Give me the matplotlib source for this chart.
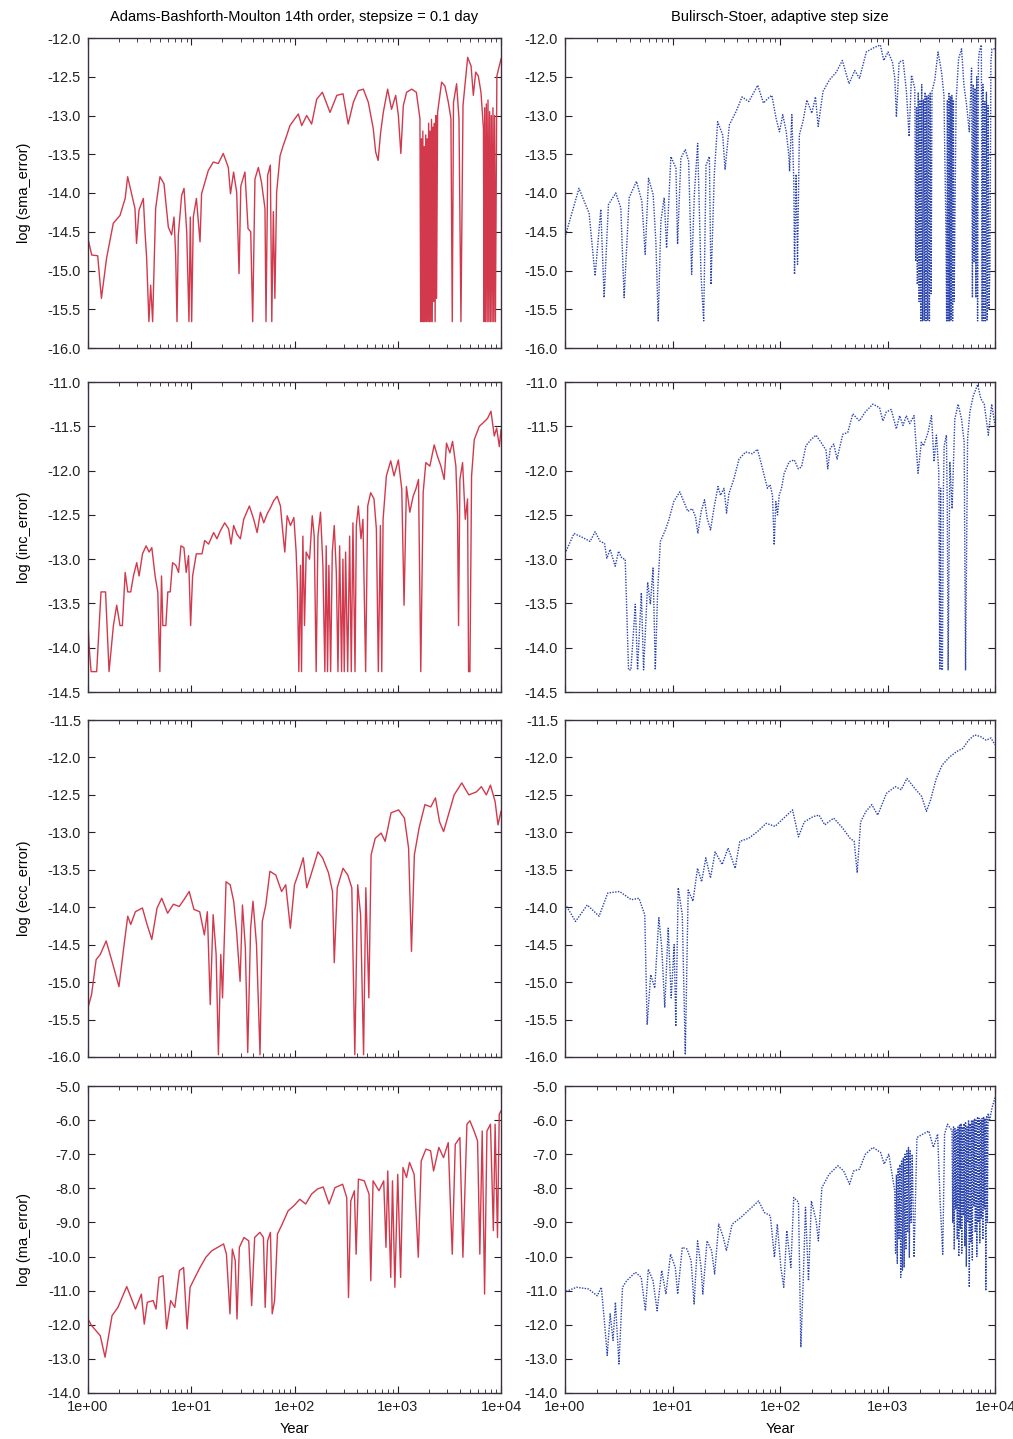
import numpy as np
import matplotlib
matplotlib.use("Agg")
import matplotlib.pyplot as plt
from matplotlib.ticker import FixedLocator, LogLocator, NullFormatter, FormatStrFormatter

plt.rcParams['font.family'] = ['Liberation Sans', 'DejaVu Sans']
plt.rcParams['axes.unicode_minus'] = False

# x positions are read as log10(year), values are log10(error)

# --- sma, ABM (left, row 1)
sma_abm_lx = [0, 0.036, 0.094, 0.13, 0.18, 0.245, 0.31, 0.36, 0.384, 0.455, 0.47, 0.494, 0.536, 0.552,
              0.568, 0.59, 0.607, 0.626, 0.655, 0.697, 0.736, 0.778, 0.81, 0.833, 0.849, 0.862, 0.875,
              0.907, 0.93, 0.956, 0.978, 0.991, 1.004, 1.02, 1.05, 1.085, 1.10, 1.165, 1.214, 1.262,
              1.31, 1.359, 1.38, 1.41, 1.44, 1.463, 1.48, 1.52, 1.55, 1.576, 1.595, 1.617, 1.65, 1.68,
              1.714, 1.724, 1.74, 1.766, 1.78, 1.795, 1.81, 1.827, 1.86, 1.89, 1.924, 1.956, 2.005,
              2.037, 2.07, 2.118, 2.166, 2.215, 2.27, 2.344, 2.41, 2.47, 2.52, 2.57, 2.618, 2.667,
              2.715, 2.763, 2.786, 2.81, 2.834, 2.86, 2.902, 2.94, 2.98, 3.006, 3.03, 3.054, 3.086,
              3.135, 3.18,
              3.215, 3.222, 3.229, 3.236, 3.243, 3.25, 3.257, 3.264, 3.271, 3.278, 3.285, 3.292, 3.299,
              3.306, 3.313, 3.32, 3.327, 3.334, 3.341, 3.348, 3.355, 3.362, 3.369, 3.376, 3.386,
              3.425, 3.457, 3.49, 3.515, 3.528, 3.54, 3.57, 3.593, 3.612, 3.632, 3.677, 3.71, 3.732,
              3.755, 3.78, 3.806,
              3.83, 3.836, 3.842, 3.85, 3.858, 3.866, 3.874, 3.882, 3.89, 3.898, 3.906, 3.914, 3.922,
              3.93, 3.938, 3.946, 3.96, 4.0]
sma_abm = [-14.59, -14.80, -14.81, -15.36, -14.84, -14.39, -14.29, -14.07, -13.79, -14.20, -14.65,
           -14.22, -14.07, -14.50, -14.84, -15.66, -15.19, -15.66, -14.20, -13.79, -13.88, -14.44,
           -14.54, -14.31, -14.80, -15.66, -14.54, -14.03, -13.94, -14.50, -15.66, -14.31, -15.66,
           -14.31, -14.07, -14.63, -14.01, -13.71, -13.60, -13.62, -13.49, -13.67, -14.01, -13.73,
           -13.99, -15.04, -13.91, -13.73, -14.46, -14.50, -15.66, -13.82, -13.67, -13.86, -14.20,
           -15.66, -13.77, -13.64, -15.66, -14.24, -15.36, -13.99, -13.52, -13.39, -13.26, -13.13,
           -13.04, -12.98, -13.13, -13.00, -13.11, -12.79, -12.70, -12.96, -12.74, -12.72, -13.11,
           -12.83, -12.68, -12.66, -12.83, -13.17, -13.47, -13.58, -13.22, -12.96, -12.66, -12.92,
           -12.74, -13.00, -13.49, -12.87, -12.70, -12.66, -12.70,
           -13.04, -15.66, -13.30, -15.66, -13.20, -15.66, -13.40, -15.66, -13.25, -15.66, -13.30,
           -15.66, -13.10, -15.66, -13.20, -15.66, -13.05, -15.66, -13.15, -15.40, -13.10, -15.66,
           -13.00, -15.36, -12.96,
           -12.57, -12.62, -12.83, -13.04, -15.66, -12.83, -12.59, -13.04, -15.66, -12.87, -12.25,
           -12.36, -12.74, -12.44, -12.49, -12.70,
           -13.17, -15.66, -12.90, -15.66, -12.85, -15.66, -12.80, -15.66, -12.95, -15.66, -13.00,
           -15.66, -12.90, -15.66, -13.00, -15.66, -12.49, -12.27]

# --- sma, Bulirsch-Stoer (right, row 1)
sma_bs_lx = [0.006, 0.13, 0.224, 0.28, 0.333, 0.364, 0.404, 0.472, 0.519, 0.55, 0.597, 0.665, 0.715,
             0.746, 0.777, 0.82, 0.845, 0.867, 0.892, 0.923, 0.945, 0.985, 1.032, 1.047, 1.078, 1.119,
             1.15, 1.178, 1.203, 1.234, 1.265, 1.29, 1.312, 1.343, 1.358, 1.389, 1.42, 1.467, 1.489,
             1.529, 1.591, 1.647, 1.71, 1.793, 1.846, 1.887, 1.924, 1.964, 1.995, 2.026, 2.058, 2.082,
             2.089, 2.11, 2.129, 2.135, 2.15, 2.163, 2.18, 2.213, 2.25, 2.296, 2.33, 2.355, 2.4, 2.46,
             2.524, 2.58, 2.642, 2.695, 2.74, 2.803, 2.88, 2.934, 2.965, 3.005, 3.046, 3.068, 3.083,
             3.108, 3.145, 3.176, 3.201, 3.223,
             3.254, 3.262, 3.27, 3.278, 3.286, 3.294, 3.302, 3.31, 3.318, 3.326, 3.334, 3.342, 3.35,
             3.358, 3.366, 3.374, 3.382, 3.39, 3.398, 3.406, 3.414, 3.44, 3.47, 3.503, 3.525,
             3.544, 3.55, 3.557, 3.564, 3.571, 3.578, 3.585, 3.592, 3.599, 3.606, 3.613, 3.62, 3.638,
             3.661, 3.689, 3.711, 3.736, 3.761, 3.782, 3.79, 3.798, 3.806, 3.814, 3.822, 3.83, 3.838,
             3.846, 3.854, 3.873, 3.88, 3.888, 3.896, 3.904, 3.912, 3.92, 3.928, 3.936, 3.944, 3.953,
             3.962, 3.972, 4.0]
sma_bs = [-14.54, -13.94, -14.26, -15.07, -14.21, -15.35, -14.15, -14.00, -14.19, -15.35, -14.06,
          -13.85, -14.11, -14.79, -13.81, -14.02, -14.62, -15.65, -14.36, -14.06, -14.71, -13.53,
          -13.68, -14.66, -13.55, -13.44, -13.59, -15.05, -14.02, -13.36, -15.05, -15.65, -13.64,
          -13.53, -15.18, -13.76, -13.08, -13.25, -13.70, -13.12, -12.95, -12.76, -12.82, -12.61,
          -12.84, -12.78, -12.74, -13.04, -13.21, -12.99, -13.21, -13.51, -13.72, -12.99, -13.89,
          -15.05, -13.76, -14.92, -13.25, -13.08, -12.80, -12.97, -12.76, -13.14, -12.69, -12.54,
          -12.44, -12.29, -12.59, -12.42, -12.52, -12.18, -12.12, -12.09, -12.29, -12.18, -12.31,
          -12.52, -13.02, -12.31, -12.29, -12.69, -13.27, -12.48,
          -12.65, -14.88, -12.90, -15.18, -12.70, -15.40, -12.80, -15.65, -12.60, -15.65, -12.80,
          -15.65, -12.70, -15.65, -12.75, -15.65, -12.74, -15.65, -12.70, -15.30, -12.69, -12.54,
          -12.18, -12.44, -12.74,
          -14.54, -15.65, -12.80, -15.65, -12.70, -15.65, -12.75, -15.65, -12.74, -15.65, -12.80,
          -15.40, -12.82, -12.27, -12.14, -12.61, -12.87, -13.21, -12.39, -15.35, -12.60, -14.90,
          -12.65, -15.35, -12.50, -15.65, -12.30, -12.18, -12.09, -15.65, -12.60, -15.65, -12.82,
          -15.65, -12.70, -15.65, -12.87, -15.50, -14.96, -12.30, -12.14, -12.14]

# --- inc, ABM (left, row 2)
inc_abm_lx = [0, 0.01, 0.03, 0.084, 0.126, 0.17, 0.204, 0.246, 0.278, 0.31, 0.333, 0.36, 0.385, 0.414,
              0.44, 0.472, 0.495, 0.528, 0.563, 0.592, 0.618, 0.65, 0.676, 0.696, 0.712, 0.725, 0.754,
              0.773, 0.796, 0.819, 0.851, 0.877, 0.9, 0.929, 0.951, 0.974, 0.994, 1.013, 1.049, 1.104,
              1.13, 1.168, 1.217, 1.249, 1.282, 1.324, 1.362, 1.385, 1.411, 1.443, 1.476, 1.508, 1.563,
              1.605, 1.638, 1.67, 1.702, 1.735, 1.767, 1.799, 1.832, 1.864, 1.887, 1.906, 1.929, 1.961,
              1.994, 2.016, 2.029, 2.042, 2.058, 2.068, 2.081, 2.097, 2.113, 2.146, 2.172, 2.191, 2.21,
              2.227, 2.252, 2.275, 2.294, 2.307, 2.32, 2.333, 2.35, 2.366, 2.385, 2.405, 2.421, 2.437,
              2.456, 2.469, 2.482, 2.495, 2.515, 2.534, 2.55, 2.566, 2.586, 2.599, 2.618, 2.644, 2.663,
              2.689, 2.709, 2.738, 2.77, 2.793, 2.812, 2.832, 2.845, 2.858, 2.89, 2.932, 2.964, 3.006,
              3.039, 3.061, 3.084, 3.117, 3.149, 3.175, 3.201, 3.223, 3.246, 3.272, 3.311, 3.353, 3.385,
              3.418, 3.45, 3.472, 3.505, 3.531, 3.563, 3.579, 3.589, 3.602, 3.628, 3.654, 3.676, 3.686,
              3.699, 3.715, 3.741, 3.79, 3.828, 3.87, 3.903, 3.935, 3.958, 3.984, 4.0]
inc_abm = [-13.71, -13.97, -14.27, -14.27, -13.37, -13.37, -14.27, -13.75, -13.52, -13.75, -13.75,
           -13.15, -13.37, -13.37, -13.19, -13.04, -13.19, -12.94, -12.85, -12.92, -12.87, -13.19,
           -13.37, -14.27, -13.19, -13.75, -13.75, -13.37, -13.37, -13.04, -13.07, -13.15, -12.85,
           -12.87, -13.15, -12.96, -13.75, -13.19, -12.94, -12.94, -12.79, -12.83, -12.70, -12.77,
           -12.68, -12.59, -12.66, -12.83, -12.62, -12.72, -12.77, -12.55, -12.40, -12.55, -12.70,
           -12.47, -12.59, -12.49, -12.42, -12.34, -12.29, -12.40, -12.70, -12.92, -12.51, -12.62,
           -12.53, -12.92, -13.37, -14.27, -13.07, -14.27, -12.74, -13.75, -12.92, -13.00, -12.51,
           -12.74, -14.27, -12.74, -12.47, -13.07, -14.27, -12.85, -14.27, -13.07, -14.27, -12.92,
           -12.62, -13.15, -14.27, -12.85, -14.27, -13.00, -14.27, -12.92, -14.27, -12.74, -14.27,
           -12.59, -14.27, -12.62, -12.40, -12.77, -12.55, -14.27, -12.40, -12.25, -12.32, -12.66,
           -14.27, -12.62, -14.27, -12.55, -12.06, -11.89, -12.06, -11.88, -12.21, -13.52, -12.18,
           -12.47, -12.29, -12.21, -12.10, -14.27, -12.25, -11.91, -11.95, -11.71, -11.84, -11.95,
           -12.10, -11.69, -11.80, -11.67, -11.95, -12.51, -13.75, -12.10, -11.91, -12.55, -12.32,
           -14.27, -14.27, -12.06, -11.65, -11.50, -11.46, -11.41, -11.33, -11.61, -11.52, -11.73,
           -11.54]

# --- inc, Bulirsch-Stoer (right, row 2)
inc_bs_lx = [0.01, 0.084, 0.171, 0.233, 0.28, 0.327, 0.367, 0.389, 0.42, 0.467, 0.498, 0.529, 0.56,
             0.591, 0.613, 0.654, 0.675, 0.71, 0.731, 0.769, 0.794, 0.819, 0.84, 0.862, 0.887, 0.934,
             0.965, 1.012, 1.068, 1.105, 1.142, 1.183, 1.214, 1.236, 1.267, 1.298, 1.323, 1.354,
             1.385, 1.423, 1.447, 1.479, 1.503, 1.525, 1.572, 1.619, 1.681, 1.743, 1.79, 1.821, 1.852,
             1.883, 1.908, 1.93, 1.946, 1.961, 1.977, 1.992, 2.014, 2.039, 2.086, 2.133, 2.17, 2.2,
             2.241, 2.281, 2.334, 2.381, 2.428, 2.444, 2.468, 2.5, 2.531, 2.553, 2.584, 2.63, 2.677,
             2.739, 2.792, 2.864, 2.926, 2.957, 2.988, 3.035, 3.082, 3.113, 3.144, 3.175, 3.206, 3.247,
             3.259, 3.284, 3.315, 3.335, 3.377, 3.409, 3.433, 3.455, 3.477, 3.486, 3.494, 3.502, 3.511,
             3.519, 3.527, 3.548, 3.556, 3.564, 3.58, 3.601, 3.626, 3.657, 3.689, 3.713, 3.726, 3.745,
             3.766, 3.797, 3.838, 3.869, 3.9, 3.938, 3.969, 4.0]
inc_bs = [-12.91, -12.71, -12.76, -12.80, -12.69, -12.80, -12.82, -12.99, -12.89, -13.08, -12.91,
          -12.99, -13.00, -14.25, -14.25, -13.51, -14.25, -13.38, -14.25, -13.26, -13.51, -13.10,
          -14.25, -13.36, -12.80, -12.67, -12.56, -12.35, -12.24, -12.35, -12.46, -12.43, -12.52,
          -12.71, -12.46, -12.33, -12.54, -12.67, -12.43, -12.18, -12.28, -12.20, -12.48, -12.26,
          -12.09, -11.87, -11.79, -11.81, -11.76, -11.90, -12.05, -12.20, -12.16, -12.28, -12.84,
          -12.35, -12.50, -12.28, -12.20, -12.03, -11.90, -11.88, -11.98, -11.96, -11.72, -11.66,
          -11.60, -11.68, -11.77, -11.98, -11.75, -11.70, -11.87, -11.75, -11.59, -11.57, -11.36,
          -11.44, -11.34, -11.25, -11.29, -11.44, -11.34, -11.31, -11.53, -11.38, -11.49, -11.38,
          -11.47, -11.38, -11.59, -12.03, -11.68, -11.72, -11.57, -11.38, -11.90, -11.60, -12.01,
          -14.25, -12.20, -14.25, -14.25, -12.30, -11.72, -11.60, -12.40, -14.25, -11.90, -12.43,
          -11.42, -11.25, -11.42, -11.68, -14.25, -11.64, -11.34, -11.16, -11.03, -11.19, -11.25,
          -11.60, -11.25, -11.49]

# --- ecc, ABM (left, row 3)
ecc_abm_lx = [0, 0.034, 0.079, 0.119, 0.176, 0.232, 0.3, 0.346, 0.385, 0.414, 0.459, 0.527, 0.572,
              0.618, 0.669, 0.714, 0.771, 0.827, 0.884, 0.929, 0.98, 1.026, 1.082, 1.127, 1.156, 1.184,
              1.212, 1.241, 1.263, 1.286, 1.303, 1.337, 1.377, 1.411, 1.439, 1.473, 1.496, 1.524,
              1.547, 1.575, 1.598, 1.632, 1.666, 1.688, 1.722, 1.762, 1.819, 1.875, 1.915, 1.96, 2.0,
              2.045, 2.085, 2.119, 2.159, 2.227, 2.272, 2.329, 2.368, 2.385, 2.414, 2.47, 2.516, 2.555,
              2.584, 2.612, 2.64, 2.669, 2.691, 2.72, 2.742, 2.782, 2.839, 2.878, 2.935, 3.008, 3.065,
              3.105, 3.133, 3.161, 3.207, 3.263, 3.32, 3.365, 3.405, 3.444, 3.49, 3.546, 3.62, 3.688,
              3.762, 3.81, 3.858, 3.898, 3.943, 3.971, 4.0]
ecc_abm = [-15.34, -15.17, -14.70, -14.63, -14.45, -14.72, -15.06, -14.54, -14.12, -14.23, -14.06,
           -14.01, -14.23, -14.43, -14.01, -13.88, -14.08, -13.96, -13.99, -13.90, -13.79, -14.03,
           -14.06, -14.37, -14.06, -15.30, -14.10, -14.63, -15.97, -14.63, -15.21, -13.66, -13.70,
           -13.92, -14.32, -14.99, -13.97, -14.54, -15.94, -14.28, -13.92, -14.50, -15.97, -14.19,
           -13.97, -13.52, -13.57, -13.79, -13.70, -14.28, -13.70, -13.52, -13.34, -13.74, -13.57,
           -13.26, -13.34, -13.54, -13.79, -14.74, -13.74, -13.48, -13.57, -13.74, -15.97, -13.70,
           -14.10, -15.97, -13.74, -15.21, -13.30, -13.08, -13.01, -13.12, -12.74, -12.70, -12.81,
           -13.21, -14.59, -13.30, -12.94, -12.63, -12.66, -12.54, -12.86, -12.99, -12.77, -12.50,
           -12.34, -12.50, -12.46, -12.39, -12.50, -12.37, -12.59, -12.90, -12.72]

# --- ecc, Bulirsch-Stoer (right, row 3)
ecc_bs_lx = [0.016, 0.098, 0.207, 0.317, 0.398, 0.508, 0.617, 0.688, 0.742, 0.764, 0.797, 0.835,
             0.873, 0.9, 0.928, 0.96, 0.988, 1.015, 1.031, 1.053, 1.091, 1.119, 1.146, 1.19, 1.233,
             1.271, 1.31, 1.353, 1.397, 1.462, 1.517, 1.583, 1.626, 1.708, 1.79, 1.872, 1.954, 2.035,
             2.117, 2.172, 2.226, 2.308, 2.363, 2.417, 2.499, 2.581, 2.652, 2.69, 2.718, 2.75, 2.8,
             2.854, 2.909, 2.99, 3.072, 3.127, 3.181, 3.252, 3.318, 3.362, 3.4, 3.454, 3.509, 3.58,
             3.645, 3.7, 3.754, 3.809, 3.864, 3.918, 3.962, 4.0]
ecc_bs = [-13.99, -14.19, -13.97, -14.12, -13.81, -13.79, -13.90, -13.88, -14.10, -15.57, -14.90,
          -15.08, -14.14, -14.54, -15.34, -14.28, -15.21, -14.50, -15.59, -13.74, -14.10, -15.97,
          -13.77, -13.92, -13.48, -13.66, -13.34, -13.61, -13.26, -13.43, -13.21, -13.48, -13.12,
          -13.08, -12.99, -12.88, -12.92, -12.81, -12.70, -13.06, -12.86, -12.79, -12.77, -12.90,
          -12.81, -12.94, -13.08, -13.12, -13.54, -12.86, -12.72, -12.63, -12.77, -12.48, -12.39,
          -12.43, -12.28, -12.41, -12.52, -12.72, -12.57, -12.28, -12.10, -11.99, -11.92, -11.88,
          -11.77, -11.70, -11.72, -11.77, -11.74, -11.83]

# --- ma, ABM (left, row 4)
ma_abm_lx = [0, 0.034, 0.119, 0.165, 0.233, 0.29, 0.375, 0.46, 0.517, 0.545, 0.574, 0.631, 0.659,
             0.688, 0.727, 0.761, 0.801, 0.841, 0.886, 0.926, 0.96, 0.989, 1.028, 1.085, 1.142, 1.199,
             1.256, 1.313, 1.341, 1.375, 1.398, 1.426, 1.443, 1.466, 1.511, 1.557, 1.585, 1.614,
             1.665, 1.699, 1.716, 1.739, 1.767, 1.784, 1.807, 1.835, 1.881, 1.938, 1.994, 2.051, 2.108,
             2.165, 2.222, 2.278, 2.335, 2.392, 2.466, 2.506, 2.523, 2.545, 2.58, 2.597, 2.619, 2.676,
             2.722, 2.739, 2.761, 2.818, 2.864, 2.886, 2.903, 2.932, 2.949, 2.972, 3.0, 3.028, 3.051,
             3.085, 3.114, 3.159, 3.199, 3.227, 3.273, 3.318, 3.347, 3.398, 3.443, 3.489, 3.511, 3.528,
             3.557, 3.602, 3.631, 3.67, 3.699, 3.739, 3.773, 3.795, 3.818, 3.841, 3.864, 3.898, 3.926,
             3.943, 3.966, 3.983, 4.0]
ma_abm = [-11.83, -12.02, -12.32, -12.95, -11.73, -11.49, -10.88, -11.54, -11.10, -11.98, -11.34,
          -11.29, -11.54, -10.61, -10.56, -12.12, -11.29, -11.49, -10.41, -10.32, -12.12, -10.90,
          -10.66, -10.32, -10.02, -9.83, -9.73, -9.63, -9.93, -11.68, -9.78, -10.12, -11.83, -9.73,
          -9.44, -9.54, -11.44, -9.44, -9.29, -9.44, -11.49, -9.54, -9.29, -11.68, -11.29, -9.34,
          -9.05, -8.66, -8.51, -8.32, -8.46, -8.17, -8.02, -7.96, -8.46, -7.98, -7.88, -8.27,
          -11.20, -8.37, -8.07, -9.93, -7.73, -7.78, -8.17, -10.71, -7.78, -8.07, -7.78, -9.73,
          -7.49, -10.61, -7.78, -10.90, -7.59, -10.61, -7.39, -7.68, -7.24, -7.59, -10.02, -7.20,
          -6.85, -6.90, -7.49, -6.80, -7.10, -6.66, -8.56, -9.93, -6.71, -6.51, -10.02, -6.12,
          -6.02, -6.32, -6.61, -9.93, -6.32, -11.10, -6.32, -6.12, -9.24, -6.12, -9.44, -5.83,
          -5.73]

# --- ma, Bulirsch-Stoer (right, row 4)
ma_bs_lx = [0.01, 0.109, 0.218, 0.3, 0.338, 0.366, 0.393, 0.42, 0.447, 0.469, 0.502, 0.535, 0.573,
            0.655, 0.709, 0.748, 0.775, 0.819, 0.857, 0.9, 0.939, 0.982, 1.026, 1.048, 1.091, 1.135,
            1.173, 1.201, 1.233, 1.266, 1.282, 1.321, 1.364, 1.392, 1.43, 1.473, 1.501, 1.555, 1.637,
            1.719, 1.801, 1.855, 1.91, 1.948, 1.975, 2.008, 2.035, 2.063, 2.101, 2.128, 2.172, 2.194,
            2.216, 2.237, 2.265, 2.292, 2.336, 2.357, 2.39, 2.456, 2.538, 2.592, 2.647, 2.685, 2.739,
            2.794, 2.865, 2.936, 2.969, 3.012,
            3.067, 3.075, 3.083, 3.091, 3.099, 3.107, 3.115, 3.123, 3.131, 3.139, 3.147, 3.155, 3.163,
            3.171, 3.179, 3.187, 3.195, 3.203, 3.211, 3.22, 3.23, 3.247, 3.274,
            3.329, 3.384, 3.427, 3.466, 3.492, 3.514, 3.531, 3.558, 3.58,
            3.6, 3.607, 3.614, 3.621, 3.628, 3.635, 3.642, 3.649, 3.656, 3.663, 3.67, 3.677, 3.684,
            3.691, 3.698, 3.705, 3.712, 3.719, 3.726, 3.733, 3.74, 3.747, 3.754, 3.761, 3.768, 3.775,
            3.782, 3.789, 3.796, 3.803, 3.81, 3.817, 3.824, 3.831, 3.838, 3.845, 3.852, 3.859, 3.866,
            3.873, 3.88, 3.887, 3.894, 3.901, 3.908, 3.915, 3.922, 3.929, 3.936, 3.95, 3.973, 4.0]
ma_bs = [-11.02, -10.90, -10.95, -11.15, -10.90, -11.88, -12.90, -11.68, -12.46, -11.34, -13.15,
         -10.90, -10.71, -10.46, -10.61, -11.59, -10.37, -10.71, -11.59, -10.41, -11.10, -9.93,
         -10.32, -11.10, -9.73, -9.78, -10.12, -11.39, -9.54, -10.32, -11.10, -9.54, -9.83,
         -10.51, -9.05, -9.44, -9.83, -9.05, -8.85, -8.61, -8.37, -8.71, -8.80, -10.02, -9.05,
         -10.32, -10.90, -9.24, -10.32, -8.27, -8.41, -12.66, -10.71, -8.56, -10.71, -8.37, -8.95,
         -9.54, -7.98, -7.59, -7.34, -7.49, -7.88, -7.49, -7.44, -7.00, -6.80, -6.95, -7.29, -7.00,
         -8.07, -9.90, -7.60, -10.20, -7.40, -9.50, -7.30, -10.61, -7.20, -10.40, -7.10, -10.32,
         -7.00, -9.80, -6.90, -9.30, -6.80, -10.02, -6.90, -9.00, -7.00, -10.02, -6.51,
         -6.41, -6.32, -6.80, -6.41, -8.56, -9.93, -6.41, -6.12, -6.22,
         -6.30, -9.00, -6.20, -9.80, -6.25, -8.60, -6.30, -9.50, -6.20, -10.00, -6.15, -9.20, -6.10,
         -9.90, -6.20, -8.80, -6.10, -9.70, -6.05, -10.30, -6.20, -9.00, -6.00, -10.90, -6.10, -9.60,
         -6.00, -10.10, -6.00, -8.50, -5.95, -9.30, -6.00, -10.00, -5.90, -9.00, -5.95, -9.60, -6.00,
         -8.90, -5.95, -9.50, -5.90, -8.60, -5.95, -11.00, -5.90, -9.00, -5.80, -6.00, -5.63, -5.34]

ylabels = ['log (sma_error)', 'log (inc_error)', 'log (ecc_error)', 'log (ma_error)']
ylims = [(-16.0, -12.0), (-14.5, -11.0), (-16.0, -11.5), (-14.0, -5.0)]
ysteps = [0.5, 0.5, 0.5, 1.0]
titles = ['Adams-Bashforth-Moulton 14th order, stepsize = 0.1 day',
          'Bulirsch-Stoer, adaptive step size']
xticklabels = ['1e+00', '1e+01', '1e+02', '1e+03', '1e+04']

left_data = [(sma_abm_lx, sma_abm), (inc_abm_lx, inc_abm), (ecc_abm_lx, ecc_abm), (ma_abm_lx, ma_abm)]
right_data = [(sma_bs_lx, sma_bs), (inc_bs_lx, inc_bs), (ecc_bs_lx, ecc_bs), (ma_bs_lx, ma_bs)]

red = '#d2394d'
blue = '#2b44ad'

fig = plt.figure(figsize=(10.13, 14.39), dpi=100)

# axes boxes in pixels: (top, bottom)
rows_px = [(38, 348), (382, 692), (720, 1057), (1086, 1393)]
cols_px = [(88, 501), (565, 995)]
W, H = 1013.0, 1439.0

for r in range(4):
    for c in range(2):
        t, b = rows_px[r]
        l, rr = cols_px[c]
        ax = fig.add_axes([l / W, 1 - b / H, (rr - l) / W, (b - t) / H])
        lx, vals = (left_data if c == 0 else right_data)[r]
        years = 10 ** np.array(lx)
        if c == 0:
            ax.plot(years, vals, color=red, lw=1.0)
        else:
            ax.plot(years, vals, color=blue, lw=1.0, ls=(0, (1, 1)))
        ax.set_xscale('log')
        ax.set_xlim(1, 1e4)
        ax.set_ylim(*ylims[r])
        ax.yaxis.set_major_locator(FixedLocator(np.arange(ylims[r][0], ylims[r][1] + 1e-6, ysteps[r])))
        ax.yaxis.set_major_formatter(FormatStrFormatter('%.1f'))
        ax.xaxis.set_major_locator(FixedLocator([1, 10, 100, 1000, 10000]))
        ax.xaxis.set_minor_locator(LogLocator(base=10, subs=np.arange(2, 10)))
        ax.xaxis.set_minor_formatter(NullFormatter())
        if r == 3:
            ax.set_xticklabels(xticklabels)
            ax.set_xlabel('Year', fontsize=10.5, labelpad=6)
        else:
            ax.set_xticklabels([])
        ax.tick_params(which='both', direction='in', top=True, right=True, labelsize=10.5,
                       colors='#222222', pad=5)
        ax.tick_params(which='major', length=5, width=0.8)
        ax.tick_params(which='minor', length=3, width=0.6)
        for sp in ax.spines.values():
            sp.set_color('#3a3040')
            sp.set_linewidth(1.0)
        if c == 0:
            ax.set_ylabel(ylabels[r], fontsize=10.5, labelpad=12)
        if r == 0:
            ax.set_title(titles[c], fontsize=10.5, pad=12)

fig.savefig('out.png', dpi=100)
